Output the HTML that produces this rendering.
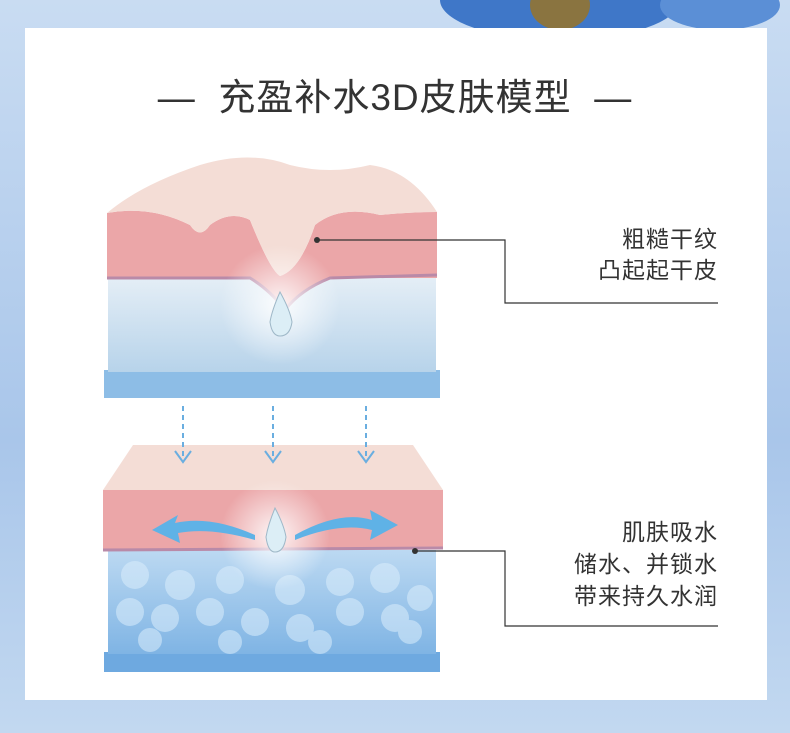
<!DOCTYPE html><html><head><meta charset="utf-8"><style>
body{margin:0;width:790px;height:733px;overflow:hidden;background:linear-gradient(180deg,#c9dcf2,#a9c6ea 60%,#c2d8f0);font-family:"Liberation Sans","Noto Sans CJK SC",sans-serif;position:relative}
.card{position:absolute;left:25px;top:28px;width:742px;height:672px;background:#fff}
.t{position:absolute;left:0;width:790px;top:67px;text-align:center;font-size:37px;color:#333;letter-spacing:1px;font-weight:normal}
.lab{position:absolute;right:72px;text-align:right;font-size:23px;line-height:31px;color:#333;letter-spacing:1px}
</style></head><body>
<svg style="position:absolute;left:0;top:0" width="790" height="28"><ellipse cx="560" cy="0" rx="120" ry="40" fill="#3f77c8"/><ellipse cx="560" cy="5" rx="30" ry="25" fill="#8a7440"/><ellipse cx="720" cy="5" rx="60" ry="25" fill="#5b8fd6"/></svg>
<div class="card"></div>
<div class="t">—&nbsp; 充盈补水3D皮肤模型 &nbsp;—</div>
<svg style="position:absolute;left:0;top:0" width="790" height="733">
<defs>
<linearGradient id="cell" x1="0" y1="0" x2="0" y2="1"><stop offset="0" stop-color="#e4eef6"/><stop offset="1" stop-color="#b7d3ea"/></linearGradient>
<linearGradient id="cell2" x1="0" y1="0" x2="0" y2="1"><stop offset="0" stop-color="#bcd9f2"/><stop offset="1" stop-color="#7fb4e4"/></linearGradient>
<radialGradient id="glow"><stop offset="0" stop-color="#fff" stop-opacity=".9"/><stop offset="1" stop-color="#fff" stop-opacity="0"/></radialGradient>
</defs>
<rect x="104" y="370" width="336" height="28" fill="#8dbde6"/>
<rect x="108" y="278" width="328" height="94" fill="url(#cell)"/>
<path d="M107 213 Q150 205 190 225 Q200 240 210 225 Q230 210 250 220 Q270 270 280 276 Q300 270 315 225 Q340 205 380 215 Q410 212 437 212 L437 278 L330 278 Q300 290 285 310 Q270 290 250 278 L107 278Z" fill="#eba6a8"/>
<path d="M107 278 L250 278 Q270 290 285 310 Q300 290 330 278 L437 275" stroke="#b98aa8" stroke-width="3" fill="none"/>
<path d="M107 213 Q140 185 200 165 Q250 150 290 165 Q330 175 370 165 Q410 170 437 212 Q410 212 380 215 Q340 205 315 225 Q300 270 280 276 Q270 270 250 220 Q230 210 210 225 Q200 240 190 225 Q150 205 107 213Z" fill="#f4ddd6"/>
<circle cx="280" cy="305" r="60" fill="url(#glow)"/>
<path d="M280 292 Q272 310 270 322 Q272 336 280 336 Q290 336 292 322 Q290 310 280 292Z" fill="#dceef6" stroke="#9fb8c8"/>
<circle cx="317" cy="240" r="3" fill="#333"/>
<polyline points="317,240 505,240 505,303 718,303" fill="none" stroke="#333" stroke-width="1.2"/>
<rect x="104" y="652" width="336" height="20" fill="#6ea9e0"/>
<rect x="108" y="550" width="328" height="104" fill="url(#cell2)"/>
<g fill="#dbeefc" opacity=".55">
<circle cx="135" cy="575" r="14"/><circle cx="180" cy="585" r="15"/><circle cx="230" cy="580" r="14"/><circle cx="290" cy="590" r="15"/><circle cx="340" cy="582" r="14"/><circle cx="385" cy="578" r="15"/><circle cx="420" cy="598" r="13"/>
<circle cx="130" cy="612" r="14"/><circle cx="165" cy="618" r="14"/><circle cx="210" cy="612" r="14"/><circle cx="255" cy="622" r="14"/><circle cx="300" cy="628" r="14"/><circle cx="350" cy="612" r="14"/><circle cx="395" cy="618" r="14"/>
<circle cx="150" cy="640" r="12"/><circle cx="230" cy="642" r="12"/><circle cx="320" cy="642" r="12"/><circle cx="410" cy="632" r="12"/></g>
<path d="M103 490 L443 490 L443 548 L103 550Z" fill="#eba6a8"/>
<path d="M103 550 L443 548" stroke="#b98aa8" stroke-width="3"/>
<path d="M103 490 L133 445 L413 445 L443 490Z" fill="#f4ddd6"/>
<circle cx="275" cy="535" r="55" fill="url(#glow)"/>
<path d="M275 508 Q268 525 266 537 Q268 552 275 552 Q284 552 286 537 Q284 525 275 508Z" fill="#dceef6" stroke="#9fb8c8"/>
<path d="M255 535 Q210 515 175 523 L178 515 L152 530 L180 543 L178 533 Q210 527 255 540Z" fill="#5fb2e6"/>
<path d="M295 535 Q340 510 372 520 L370 510 L398 525 L370 540 L372 530 Q340 522 295 540Z" fill="#5fb2e6"/>
<circle cx="415" cy="551" r="3" fill="#333"/>
<polyline points="415,551 505,551 505,626 718,626" fill="none" stroke="#333" stroke-width="1.2"/>
<g stroke="#6aaee0" stroke-width="2" fill="none" stroke-dasharray="5,4">
<line x1="183" y1="406" x2="183" y2="460"/><line x1="273" y1="406" x2="273" y2="460"/><line x1="366" y1="406" x2="366" y2="460"/></g>
<g stroke="#6aaee0" stroke-width="2" fill="none">
<polyline points="175,451 183,462 191,451"/><polyline points="265,451 273,462 281,451"/><polyline points="358,451 366,462 374,451"/></g>
</svg>
<div class="lab" style="top:224px">粗糙干纹<br>凸起起干皮</div>
<div class="lab" style="top:516px;line-height:32px">肌肤吸水<br>储水、并锁水<br>带来持久水润</div>
</body></html>
